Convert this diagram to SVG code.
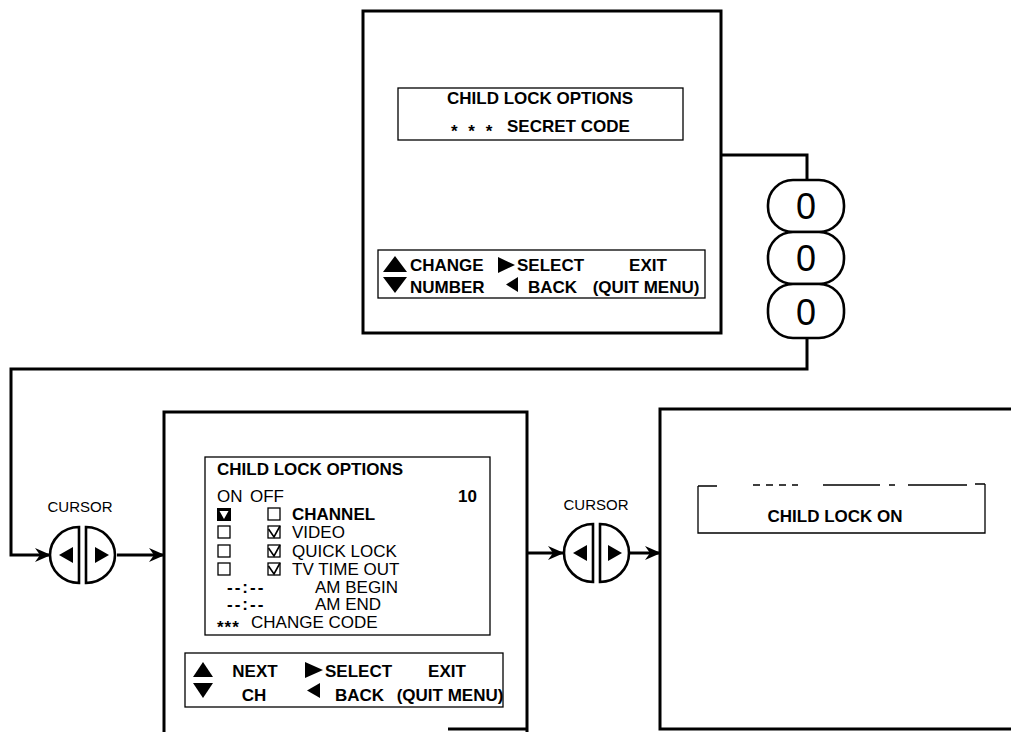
<svg xmlns="http://www.w3.org/2000/svg" width="1011" height="732" viewBox="0 0 1011 732">
<style>
.frame{fill:none;stroke:#000;stroke-width:3}
.thin{fill:none;stroke:#000;stroke-width:1.3}
.conn{fill:none;stroke:#000;stroke-width:3}
.btn{fill:#fff;stroke:#000;stroke-width:2.6}
.b{font-family:"Liberation Sans",Arial,sans-serif;font-weight:bold;font-size:17px;fill:#000}
.r{font-family:"Liberation Sans",Arial,sans-serif;font-size:17px;fill:#000}
.lbl{font-family:"Liberation Sans",Arial,sans-serif;font-size:15px;fill:#000}
.dig{font-family:"Liberation Sans",Arial,sans-serif;font-size:36px;fill:#000}
.m{text-anchor:middle}
.tri{fill:#000}
</style>
<defs>
<marker id="ah" markerUnits="userSpaceOnUse" markerWidth="16" markerHeight="14" refX="15" refY="7" orient="auto">
<path d="M0,0 L16,7 L0,14 L5,7 z" fill="#000"/>
</marker>
</defs>
<rect width="1011" height="732" fill="#fff"/>

<g id="connectors">
<path class="conn" d="M721,155 H807 V180"/>
<path class="conn" d="M807,338 V369 H11 V555 H50" marker-end="url(#ah)"/>
<path class="conn" d="M117,555 H164" marker-end="url(#ah)"/>
<path class="conn" d="M527,553 H563" marker-end="url(#ah)"/>
<path class="conn" d="M630,553 H660" marker-end="url(#ah)"/>
</g>

<g id="screen-secret-code">
<rect class="frame" x="363" y="11" width="358" height="322"/>
<rect class="thin" x="398" y="88" width="285" height="52"/>
<text class="b m" x="540" y="104">CHILD LOCK OPTIONS</text>
<text class="b" x="451" y="137" letter-spacing="3">* * *</text>
<text class="b" x="507" y="132">SECRET CODE</text>
<rect class="thin" x="378" y="250" width="327" height="48"/>
<polygon class="tri" points="383,272 395,256 407,272"/>
<polygon class="tri" points="383,277 407,277 395,293"/>
<text class="b" x="410" y="271">CHANGE</text>
<text class="b" x="410" y="293">NUMBER</text>
<polygon class="tri" points="498,257 515,265 498,273"/>
<polygon class="tri" points="518,277 518,292 506,284.5"/>
<text class="b" x="517" y="271">SELECT</text>
<text class="b" x="528" y="293">BACK</text>
<text class="b m" x="648" y="271">EXIT</text>
<text class="b m" x="646" y="293">(QUIT MENU)</text>
</g>

<g id="buttons-000">
<rect class="btn" x="768" y="180" width="76" height="52" rx="25"/>
<rect class="btn" x="768" y="232" width="76" height="52" rx="25"/>
<rect class="btn" x="768" y="284" width="76" height="54" rx="25"/>
<text class="dig m" x="806" y="219">0</text>
<text class="dig m" x="806" y="271">0</text>
<text class="dig m" x="806" y="325">0</text>
</g>

<g id="cursor-1">
<text class="lbl m" x="80" y="512">CURSOR</text>
<path class="btn" d="M79,527 L79,583 A29,28 0 0,1 79,527 z"/>
<path class="btn" d="M86,527 L86,583 A29,28 0 0,0 86,527 z"/>
<polygon class="tri" points="73,547 73,563 59,555"/>
<polygon class="tri" points="95,547 95,563 109,555"/>
</g>

<g id="screen-options">
<path class="frame" d="M164,732 V412 H527 V732"/>
<path class="frame" d="M448,729 H527"/>
<rect class="thin" x="205" y="457" width="285" height="178"/>
<text class="b" x="217" y="475">CHILD LOCK OPTIONS</text>
<text class="r" x="217" y="502">ON</text>
<text class="r" x="250" y="502">OFF</text>
<text class="b" x="458" y="502">10</text>
<rect x="217" y="508" width="14" height="13" fill="#000"/>
<polygon points="219.5,511 228.5,511 224,519" fill="#fff"/>
<rect class="thin" x="218" y="526" width="12" height="12"/>
<rect class="thin" x="218" y="545" width="12" height="12"/>
<rect class="thin" x="218" y="563" width="12" height="12"/>
<rect class="thin" x="268" y="508" width="12" height="12"/>
<rect class="thin" x="268" y="526" width="12" height="12"/>
<rect class="thin" x="268" y="545" width="12" height="12"/>
<rect class="thin" x="268" y="563" width="12" height="12"/>
<path d="M268.5,529 L274,537 L280,526 M268.5,548 L274,556 L280,545 M268.5,566 L274,574 L280,563" fill="none" stroke="#000" stroke-width="1.6"/>
<text class="b" x="292" y="520">CHANNEL</text>
<text class="r" x="292" y="538">VIDEO</text>
<text class="r" x="292" y="557">QUICK LOCK</text>
<text class="r" x="292" y="575">TV TIME OUT</text>
<text class="b" x="227" y="593" letter-spacing="2">--:--</text>
<text class="r" x="315" y="593">AM BEGIN</text>
<text class="b" x="227" y="610" letter-spacing="2">--:--</text>
<text class="r" x="315" y="610">AM END</text>
<text class="b" x="217" y="633" letter-spacing="1">***</text>
<text class="r" x="251" y="628">CHANGE CODE</text>
<rect class="thin" x="185" y="653" width="318" height="54"/>
<polygon class="tri" points="193,677 203,662 213,677"/>
<polygon class="tri" points="193,683 213,683 203,698"/>
<text class="b m" x="255" y="677">NEXT</text>
<text class="b m" x="254" y="701">CH</text>
<polygon class="tri" points="305,662 323,670 305,678"/>
<polygon class="tri" points="320,683 320,698 307,690.5"/>
<text class="b" x="325" y="677">SELECT</text>
<text class="b" x="335" y="701">BACK</text>
<text class="b m" x="447" y="677">EXIT</text>
<text class="b m" x="450" y="701">(QUIT MENU)</text>
</g>

<g id="cursor-2">
<text class="lbl m" x="596" y="510">CURSOR</text>
<path class="btn" d="M593,524 L593,582 A29,29 0 0,1 593,524 z"/>
<path class="btn" d="M600,524 L600,582 A29,29 0 0,0 600,524 z"/>
<polygon class="tri" points="587,545 587,561 573,553"/>
<polygon class="tri" points="608,545 608,561 622,553"/>
</g>

<g id="screen-lock-on">
<path class="frame" d="M1011,409 H660 V729 H1011"/>
<path class="thin" d="M698,486 V533 H985 V484"/>
<path class="thin" d="M698,486 H717 M753,485 H760 M766,485 H773 M779,485 H786 M792,485 H798 M823,485 H880 M889,485 H895 M908,485 H967 M975,484 H985"/>
<text class="b m" x="835" y="522">CHILD LOCK ON</text>
</g>
</svg>
